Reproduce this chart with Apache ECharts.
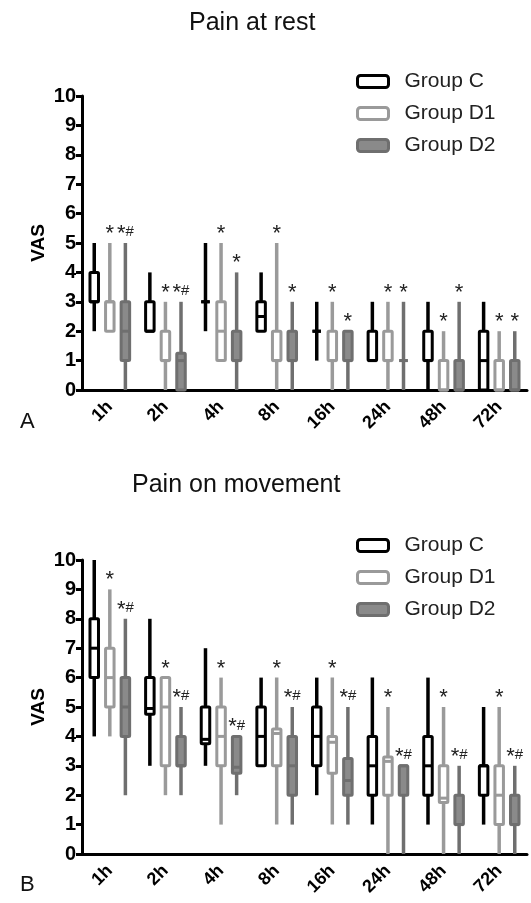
<!DOCTYPE html>
<html>
<head>
<meta charset="utf-8">
<script src="https://cdn.jsdelivr.net/npm/echarts@6/dist/echarts.min.js"></script>
<style>
html,body{margin:0;padding:0;background:#fff;}
#chart{width:531px;height:903px;}
</style>
</head>
<body>
<div id="chart"></div>
<script>
// Categories
const timePoints = ['1h', '2h', '4h', '8h', '16h', '24h', '48h', '72h'];
const yTicks = [0, 1, 2, 3, 4, 5, 6, 7, 8, 9, 10];
const groupNames = ['Group C', 'Group D1', 'Group D2'];

// Pain at rest: [min, Q1, median, Q3, max] per time point
const restC  = [[2,3,3,4,5],[2,2,2,3,4],[2,3,3,3,5],[2,2,2.5,3,4],[1,2,2,2,3],[1,1,1,2,3],[0,1,1,2,3],[0,0,1,2,3]];
const restD1 = [[2,2,3,3,5],[0,1,1,2,3],[1,1,2,3,5],[0,1,1,2,5],[0,1,1,2,3],[0,1,1,2,3],[0,0,0,1,2],[0,0,0,1,2]];
const restD2 = [[0,1,2,3,5],[0,0,1,1.25,3],[0,1,1,2,4],[0,1,1,2,3],[0,1,1,2,2],[0,1,1,1,3],[0,0,0,1,3],[0,0,0,1,2]];
const restSigD1 = ['*','*','*','*','*','*','*','*'];
const restSigD2 = ['*#','*#','*','*','*','*','*','*'];

// Pain on movement: [min, Q1, median, Q3, max] per time point
const moveC  = [[4,6,7,8,10],[3,4.75,4.95,6,8],[3,3.75,3.9,5,7],[3,3,4,5,6],[2,3,4,5,6],[1,2,3,4,6],[1,2,3,4,6],[1,2,3,3,5]];
const moveD1 = [[4,5,6,7,9],[2,3,5,6,6],[1,3,4,5,6],[1,3,4.1,4.25,6],[1,2.75,3.8,4,6],[0,2,3.15,3.3,5],[0,1.75,1.9,3,5],[0,1,2,3,5]];
const moveD2 = [[2,4,5,6,8],[2,3,3,4,5],[2,2.75,2.95,4,4],[1,2,3,4,5],[1,2,2.5,3.25,5],[0,2,3,3,3],[0,1,1,2,3],[0,1,1,2,3]];
const moveSigD1 = ['*','*','*','*','*','*','*','*'];
const moveSigD2 = ['*#','*#','*#','*#','*#','*#','*#','*#'];

const styles = [
  {stroke: '#000000', fill: '#ffffff'},
  {stroke: '#9a9a9a', fill: '#ffffff'},
  {stroke: '#6f6f6f', fill: '#8a8a8a'}
];
const FONT = '"Liberation Sans", Arial, sans-serif';

function toData(vals) {
  return vals.map(function (v, i) { return [i].concat(v); });
}

function makeRender(idx, sig) {
  const st = styles[idx];
  return function (params, api) {
    const c = api.value(0);
    const pMin = api.coord([c, api.value(1)]);
    const pQ1 = api.coord([c, api.value(2)]);
    const pMed = api.coord([c, api.value(3)]);
    const pQ3 = api.coord([c, api.value(4)]);
    const pMax = api.coord([c, api.value(5)]);
    const band = api.size([1, 0])[0];
    const off = (idx - 1) * band * 0.28;
    const x = pMin[0] + off;
    const w = 8.5;
    const children = [
      {type: 'line', shape: {x1: x, y1: pMin[1], x2: x, y2: pMax[1]},
       style: {stroke: st.stroke, lineWidth: 3.5, lineCap: 'butt'}},
      {type: 'rect', shape: {x: x - w / 2, y: pQ3[1], width: w, height: pQ1[1] - pQ3[1], r: 1},
       style: {fill: st.fill, stroke: st.stroke, lineWidth: 3}},
      {type: 'line', shape: {x1: x - w / 2, y1: pMed[1], x2: x + w / 2, y2: pMed[1]},
       style: {stroke: st.stroke, lineWidth: 3}}
    ];
    if (sig) {
      const s = sig[params.dataIndex];
      if (s) {
        children.push({type: 'text', z2: 10, style: {
          text: s.replace('*', '{s|*}').replace('#', '{h|#}'),
          x: x, y: pMax[1] + 2, align: 'center', verticalAlign: 'bottom',
          rich: {
            s: {fontSize: 22, fontFamily: FONT, fill: '#222'},
            h: {fontSize: 15, fontFamily: FONT, fill: '#222', padding: [0, 0, 4, 0]}
          }
        }});
      }
    }
    return {type: 'group', children: children};
  };
}

function series(name, idx, vals, sig, axisIndex) {
  return {
    type: 'custom', name: name,
    xAxisIndex: axisIndex, yAxisIndex: axisIndex,
    data: toData(vals),
    encode: {x: 0, y: [1, 2, 3, 4, 5]},
    itemStyle: {color: styles[idx].fill, borderColor: styles[idx].stroke, borderWidth: 3},
    renderItem: makeRender(idx, sig),
    clip: false, silent: true
  };
}

function xAxis(gi) {
  return {
    type: 'category', gridIndex: gi, data: timePoints,
    axisLine: {lineStyle: {color: '#000', width: 3}},
    axisTick: {alignWithLabel: true, length: 6, lineStyle: {color: '#000', width: 3}},
    axisLabel: {rotate: 45, margin: 14, color: '#000', fontWeight: 'bold', fontSize: 18, fontFamily: FONT},
    splitLine: {show: false}
  };
}
function yAxis(gi) {
  return {
    type: 'value', gridIndex: gi, min: 0, max: 10, interval: 1,
    name: 'VAS', nameLocation: 'middle', nameGap: 34, nameMoveOverlap: false,
    nameTextStyle: {fontWeight: 'bold', fontSize: 19, color: '#000', fontFamily: FONT},
    axisLine: {show: true, lineStyle: {color: '#000', width: 3}},
    axisTick: {show: true, length: 6, lineStyle: {color: '#000', width: 3}},
    axisLabel: {margin: 6, color: '#000', fontWeight: 'bold', fontSize: 20, fontFamily: FONT,
      formatter: function (v) { return yTicks.indexOf(v) >= 0 ? String(v) : ''; }},
    splitLine: {show: false}
  };
}

function legend(top) {
  return {
    orient: 'vertical', left: 351, top: top,
    itemWidth: 31, itemHeight: 12, itemGap: 11,
    icon: 'roundRect',
    textStyle: {fontSize: 21, color: '#222', fontFamily: FONT, padding: [0, 0, 0, 11]},
    data: groupNames.map(function (n, i) {
      return {name: n, itemStyle: {color: styles[i].fill, borderColor: styles[i].stroke, borderWidth: 3}};
    }),
    selectedMode: false
  };
}

const option = {
  backgroundColor: '#fff',
  animation: false,
  title: [
    {text: 'Pain at rest', left: 184, top: 6, textStyle: {fontSize: 25, fontWeight: 'normal', color: '#111', fontFamily: FONT}},
    {text: 'Pain on movement', left: 127, top: 468, textStyle: {fontSize: 25, fontWeight: 'normal', color: '#111', fontFamily: FONT}}
  ],
  legend: [legend(66), legend(530)],
  grid: [
    {left: 82, right: 4, top: 96, height: 294},
    {left: 82, right: 4, top: 560, height: 294}
  ],
  xAxis: [xAxis(0), xAxis(1)],
  yAxis: [yAxis(0), yAxis(1)],
  graphic: [
    {type: 'text', left: 20, top: 411, style: {text: 'A', font: '22px ' + FONT, fill: '#111'}},
    {type: 'text', left: 20, top: 874, style: {text: 'B', font: '22px ' + FONT, fill: '#111'}}
  ],
  series: [
    series(groupNames[0], 0, restC, null, 0),
    series(groupNames[1], 1, restD1, restSigD1, 0),
    series(groupNames[2], 2, restD2, restSigD2, 0),
    series(groupNames[0], 0, moveC, null, 1),
    series(groupNames[1], 1, moveD1, moveSigD1, 1),
    series(groupNames[2], 2, moveD2, moveSigD2, 1)
  ]
};

const chart = echarts.init(document.getElementById('chart'), null, {renderer: 'canvas'});
chart.setOption(option);
</script>
</body>
</html>
